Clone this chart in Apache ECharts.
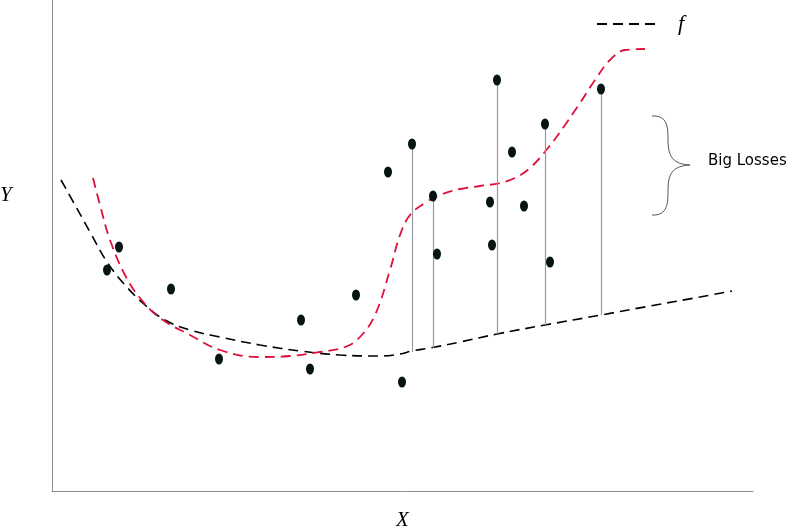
<!DOCTYPE html>
<html>
<head>
<meta charset="utf-8">
<script src="https://cdn.jsdelivr.net/npm/echarts@6/dist/echarts.min.js"></script>
<style>
  html, body { margin: 0; padding: 0; background: #fff; }
  #chart { width: 800px; height: 529px; }
</style>
</head>
<body>
<div id="chart"></div>
<script>
// data in axis units (x: 0..701 left to right, y: 0..491 bottom to top)
const fX = [9, 23, 38, 55, 73, 93, 113, 138, 168, 208, 248, 288, 328, 348, 360, 378, 408, 445, 493, 549, 598, 648, 680]
const fY = [311, 286, 259, 229, 206, 186, 171, 161, 154, 146, 140, 136, 135, 137, 140, 143, 149, 157, 166, 176, 185, 194, 200]

const modelX = [41, 48, 58, 73, 88, 108, 138, 168, 208, 238, 268, 293, 308, 323, 338, 348, 358, 373, 388, 408, 428, 448, 463, 478, 496, 513, 528, 543, 558, 573, 593]
const modelY = [313, 286, 251, 216, 193, 173, 156, 141, 134, 135, 139, 144, 154, 176, 221, 256, 276, 288, 296, 302, 305, 308, 313, 323, 343, 366, 388, 411, 431, 441, 442]

const dotX = [55, 67, 119, 167, 249, 258, 304, 336, 350, 360, 381, 385, 438, 440, 445, 460, 472, 493, 498, 549]
const dotY = [221, 244, 202, 132, 171, 122, 196, 319, 109, 347, 295, 237, 289, 246, 411, 339, 285, 367, 229, 402]

// vertical loss segments: x, top (point), bottom (on f)
const lossX = [360, 381, 445, 493, 549]
const lossTop = [347, 295, 411, 367, 402]
const lossBottom = [139, 143, 157, 166, 176]

const zip = (a, b) => a.map((v, i) => [v, b[i]])

var dom = document.getElementById('chart')
var myChart = echarts.init(dom, null, { renderer: 'canvas' })

var lossLines = lossX.map((x, i) => [{ coord: [x, lossTop[i]] }, { coord: [x, lossBottom[i]] }])

// curly brace pieces
function brace(x1, y1, cx1, cy1, cx2, cy2, x2, y2) {
    return {
        type: 'bezierCurve',
        shape: { x1: x1, y1: y1, cpx1: cx1, cpy1: cy1, cpx2: cx2, cpy2: cy2, x2: x2, y2: y2 },
        style: { fill: null, stroke: '#555', lineWidth: 1 }
    }
}

var option = {
    animation: false,
    backgroundColor: '#fff',
    grid: { left: 52, top: 0, width: 701, height: 491, containLabel: false, outerBoundsMode: 'none' },
    legend: {
        left: 591,
        top: 8,
        itemWidth: 60,
        itemHeight: 14,
        itemGap: 22,
        data: ['f'],
        itemStyle: { opacity: 0 },
        textStyle: { fontFamily: 'Liberation Serif', fontStyle: 'italic', fontSize: 22, color: '#000', padding: [0, 0, 0, 16] }
    },
    xAxis: {
        type: 'value', min: 0, max: 701,
        axisLine: { lineStyle: { color: '#8c8c8c', width: 1 } },
        axisTick: { show: false }, axisLabel: { show: false }, splitLine: { show: false },
        name: 'X', nameLocation: 'middle', nameGap: 19,
        nameTextStyle: { fontFamily: 'Liberation Serif', fontStyle: 'italic', fontSize: 21, color: '#000' }
    },
    yAxis: {
        type: 'value', min: 0, max: 491,
        axisLine: { show: true, lineStyle: { color: '#8c8c8c', width: 1 } },
        axisTick: { show: false }, axisLabel: { show: false }, splitLine: { show: false }
    },
    graphic: [
        { type: 'text', left: 0, top: 185,
          style: { text: 'Y', font: 'italic 21px "Liberation Serif"', fill: '#000' } },
        brace(652, 116, 668, 115, 668, 128, 668, 140),
        brace(668, 140, 668, 158, 674, 164, 690, 165),
        brace(690, 165, 674, 166, 668, 172, 668, 190),
        brace(668, 190, 668, 202, 668, 216, 652, 215),
        { type: 'text', left: 708, top: 154,
          style: { text: 'Big Losses', font: '15px "DejaVu Sans"', fill: '#000' } }
    ],
    series: [
        {
            name: 'f', type: 'line', data: zip(fX, fY), smooth: 0.4, showSymbol: false, symbol: 'none',
            lineStyle: { color: '#000', width: 1.6, type: [10, 6] }, itemStyle: { color: '#000' }, z: 3
        },
        {
            name: 'model', type: 'line', data: zip(modelX, modelY), smooth: 0.4, showSymbol: false, symbol: 'none',
            lineStyle: { color: '#e0103a', width: 1.8, type: [10, 6] }, z: 3
        },
        {
            name: 'points', type: 'scatter', data: zip(dotX, dotY), symbol: 'circle', symbolSize: [8, 11],
            itemStyle: { color: '#061414', opacity: 1 }, z: 5,
            markLine: {
                silent: true, symbol: 'none', label: { show: false },
                lineStyle: { color: '#9a9a9a', width: 1.2, type: 'solid' },
                data: lossLines
            }
        }
    ]
}

option && myChart.setOption(option)
</script>
</body>
</html>
